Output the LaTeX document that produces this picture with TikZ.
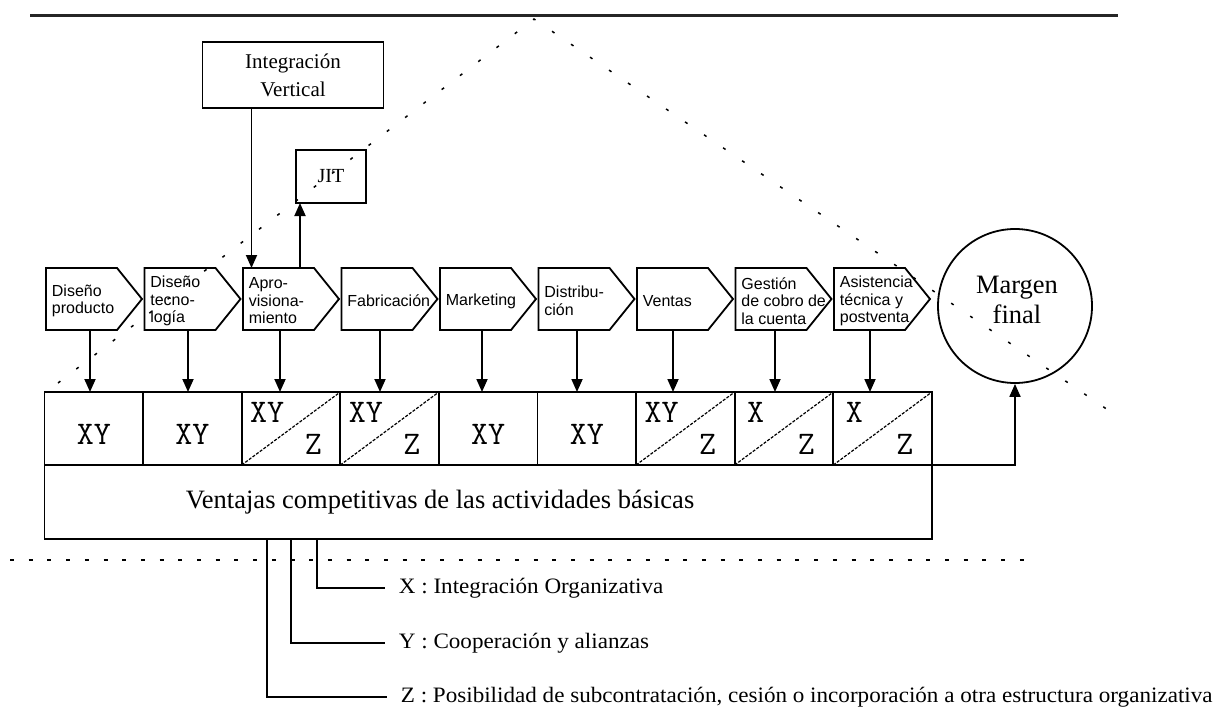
\documentclass[tikz,border=0pt]{standalone}
\usepackage{fontspec}
\setmainfont{Liberation Serif}
\newfontfamily\chevfont{Liberation Sans}
\newfontfamily\legfont{Liberation Serif}[FakeStretch=1.05]
\usetikzlibrary{arrows.meta}
\begin{document}
\begin{tikzpicture}[x=1pt,y=-1pt,
  line width=1.8pt,
  frame/.style={draw, line width=1.8pt, inner sep=0pt, outer sep=0pt},
  slot/.style={inner sep=0pt, outer sep=0pt, minimum width=71pt, minimum height=62pt, anchor=north west},
  chevtxt/.style={font=\chevfont\fontsize{16}{17.5}\selectfont, align=left, anchor=west, inner sep=0pt},
  cellbox/.style={frame, minimum width=98.6pt, minimum height=73pt, anchor=north west},
  celltxt/.style={font=\ttfamily\fontsize{33}{34}\selectfont, inner sep=0pt},
  diag/.style={line width=1.2pt, dash pattern=on 3pt off 1.5pt},
  arr/.style={-{Triangle[width=11pt,length=13pt]}, line width=1.8pt},
  dots/.style={line width=1.5pt, dash pattern=on 3pt off 20pt},
  legend/.style={font=\legfont\fontsize{22}{24}\selectfont, anchor=west, inner xsep=13pt, inner ysep=0pt},
]
\useasboundingbox[fill=white] (0,0) rectangle (1218,709);

% frame line across the top and the dotted margin triangle
\draw[line width=3pt, black!85] (30,16) -- (1118,16);
\draw[dots] (58,383) -- (534,19) -- (1108,410);
\draw[line width=1.5pt, dash pattern=on 4pt off 14.7pt] (10,560) -- (1032,560);

% support boxes
\node[frame, minimum width=181pt, minimum height=66pt,
      font=\fontsize{21}{28}\selectfont, align=center] (iv) at (293,75) {Integración\\Vertical};
\node[frame, minimum width=70pt, minimum height=53pt,
      font=\fontsize{20}{24}\selectfont] (jit) at (331,176.5) {JIT};

% value chain activities
\foreach \i/\lab in {1/{Diseño\\producto},2/{Diseño\\tecno-\\logía},3/{Apro-\\visiona-\\miento},
                     4/{Fabricación},5/{Marketing},6/{Distribu-\\ción},7/{Ventas},
                     8/{Gestión\\de cobro de\\la cuenta},9/{Asistencia\\técnica y\\postventa}} {
  \pgfmathsetmacro\L{46+98.5*(\i-1)}
  \node[slot] (c\i) at (\L,268) {};
  \draw[line width=1.8pt] (c\i.north west) -- (c\i.north east) -- ([xshift=25pt]c\i.east)
        -- (c\i.south east) -- (c\i.south west) -- cycle;
  \node[chevtxt] (t\i) at ([xshift=5pt,yshift=-2pt]c\i.west) {\lab};
}

% competitive advantage cells
\foreach \i in {1,...,9} {
  \pgfmathsetmacro\L{44.5+98.6*(\i-1)}
  \node[cellbox] (cell\i) at (\L,392) {};
}
\node[frame, minimum width=887.4pt, minimum height=74pt, anchor=north west] (base) at (44.5,465) {};
\node[font=\fontsize{26.5}{30}\selectfont, inner sep=0pt] (vtxt) at (440,502)
      {Ventajas competitivas de las actividades básicas};

\foreach \i in {1,2,5,6}
  \node[celltxt] (xy\i) at ([yshift=-6pt]cell\i.center) {XY};
\foreach \i in {3,4,7} {
  \draw[diag] (cell\i.south west) -- (cell\i.north east);
  \node[celltxt] (u\i) at ([xshift=25.5pt,yshift=-20pt]cell\i.north west) {XY};
  \node[celltxt] (z\i) at ([xshift=-27pt,yshift=21pt]cell\i.south east) {Z};
}
\foreach \i in {8,9} {
  \draw[diag] (cell\i.south west) -- (cell\i.north east);
  \node[celltxt] (u\i) at ([xshift=21pt,yshift=-20pt]cell\i.north west) {X};
  \node[celltxt] (z\i) at ([xshift=-27pt,yshift=21pt]cell\i.south east) {Z};
}

% final margin
\node[draw, circle, line width=1.8pt, minimum size=154pt, inner sep=0pt] (mf) at (1015,306) {};
\node[font=\fontsize{26.5}{30}\selectfont, align=center, inner sep=0pt] (mft) at (1017,300) {Margen\\final};

% connectors
\coordinate (ivfoot) at ([xshift=49pt]iv.south west);
\draw[arr] (ivfoot) -- (ivfoot |- c3.north);
\coordinate (jfoot) at ([xshift=57pt]c3.north west);
\draw[arr] (jfoot) -- (jfoot |- jit.south);
\foreach \i/\o in {1/44,2/43.5,3/37,4/38.5,5/42,6/38.5,7/36,8/39.5,9/36} {
  \coordinate (d\i) at ([xshift=\o pt]c\i.south west);
  \draw[arr] (d\i) -- (d\i |- cell\i.north);
}
\draw[arr] (cell9.south east) -| (mf.south);

% legend
\node[legend] (lx) at (385,588) {X : Integración Organizativa};
\node[legend] (ly) at (385,643) {Y : Cooperación y alianzas};
\node[legend] (lz) at (387,697) {Z : Posibilidad de subcontratación, cesión o incorporación a otra estructura organizativa};
\coordinate (bx) at ([xshift=272.5pt]base.south west);
\coordinate (by) at ([xshift=246.5pt]base.south west);
\coordinate (bz) at ([xshift=222.5pt]base.south west);
\draw (bx) |- (lx.west);
\draw (by) |- (ly.west);
\draw (bz) |- (lz.west);
\end{tikzpicture}
\end{document}
